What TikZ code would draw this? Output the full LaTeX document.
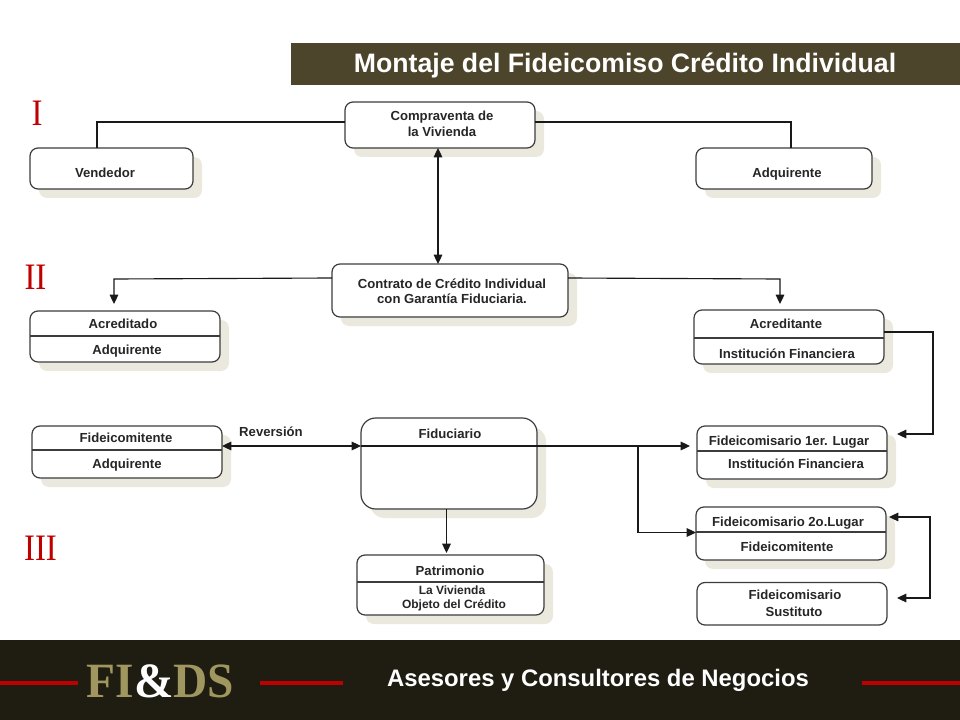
\documentclass[tikz,border=0pt]{standalone}
\usepackage{fontspec}
\setmainfont{Liberation Sans}
\newfontfamily\romanfam{Liberation Serif}
\usetikzlibrary{arrows.meta,shadows,calc}
\definecolor{linec}{HTML}{3C3C3C}
\definecolor{shadowc}{HTML}{EBE9DE}
\definecolor{barc}{HTML}{4D452B}
\definecolor{footc}{HTML}{1F1C11}
\definecolor{redc}{HTML}{C00000}
\definecolor{goldc}{HTML}{A09660}
\tikzset{
  x=0.75pt,y=-0.75pt,
  boxn/.style={draw=linec,line width=0.9pt,fill=white,rounded corners=6pt,inner sep=0pt,outer sep=0pt,
    copy shadow={shadow xshift=6.75pt,shadow yshift=-6.75pt,fill=shadowc,draw=none}},
  bigbox/.style={boxn,rounded corners=11pt},
  plainbox/.style={draw=linec,line width=0.9pt,fill=white,rounded corners=6pt,inner sep=0pt,outer sep=0pt},
  lab/.style={anchor=base,inner sep=0pt,font=\bfseries\fontsize{9.85}{11}\selectfont,text=black!85},
  smalllab/.style={lab,font=\bfseries\fontsize{9}{10}\selectfont},
  conn/.style={draw=black!90,line width=0.85pt},
  arr/.style={conn,-{Triangle[length=7pt,width=6.5pt]}},
  darr/.style={conn,{Triangle[length=7pt,width=6.5pt]}-{Triangle[length=7pt,width=6.5pt]}},
  divider/.style={draw=linec,line width=0.8pt},
  numeral/.style={anchor=base,inner sep=0pt,text=redc,xscale=0.88,font=\romanfam\fontsize{28}{30}\selectfont},
  redrule/.style={draw=redc,line width=2.6pt},
}
\newcommand{\bx}[6][boxn]{%
  \pgfmathsetmacro{\bxw}{(#5-#3)*0.75}%
  \pgfmathsetmacro{\bxh}{(#6-#4)*0.75}%
  \node[#1,minimum width=\bxw pt,minimum height=\bxh pt] (#2) at ({(#3+#5)/2},{(#4+#6)/2}) {};}
\newcommand{\tx}[5][lab]{\node[#1] (#2) at (#3,#4) {#5};}
\begin{document}
\begin{tikzpicture}
\useasboundingbox (0,0) rectangle (960,720);
% title and footer
\fill[barc] (291,43) rectangle (960,85);
\node[anchor=base,inner sep=0pt,text=white,font=\bfseries\fontsize{20}{22}\selectfont] (title) at (625,73) {Montaje del Fideicomiso Crédito Individual};
\fill[footc] (0,640) rectangle (960,720);
\draw[redrule] (0,683) -- (78,683);
\draw[redrule] (260,683) -- (343,683);
\draw[redrule] (862,683) -- (960,683);
\node[anchor=base,inner sep=0pt,text=goldc,font=\romanfam\bfseries\fontsize{37}{40}\selectfont,xscale=0.96] (logo) at (160.5,697) {FI\textcolor{white}{\&}DS};
\node[anchor=base,inner sep=0pt,text=white,font=\bfseries\fontsize{17.9}{20}\selectfont] (slogan) at (598,686) {Asesores y Consultores de Negocios};
% numerals
\node[numeral] (n1) at (37,125.5) {I};
\node[numeral] (n2) at (35.5,290) {II};
\node[numeral] (n3) at (40.5,560) {III};
% boxes
\bx{comp}{345}{102}{535}{148}
\bx{vend}{30}{148}{193}{189}
\bx{adq}{696}{148}{872}{189}
\bx{cont}{332}{264}{568}{317}
\bx{acdo}{30}{311}{220}{362}
\bx{acte}{694}{310}{884}{364}
\bx{fcom}{32}{426}{222}{478}
\bx[bigbox]{fidu}{361}{418}{537}{509}
\bx{fone}{697}{426}{887}{479}
\bx{ftwo}{696}{507}{886}{560}
\bx[plainbox]{sust}{697}{582.5}{887}{625}
\bx{patr}{357}{555}{544}{615}
% dividers
\draw[divider] (acdo.west |- 0,336) -- (acdo.east |- 0,336);
\draw[divider] (acte.west |- 0,338) -- (acte.east |- 0,338);
\draw[divider] (fcom.west |- 0,450) -- (fcom.east |- 0,450);
\draw[divider] (fone.west |- 0,451) -- (fone.east |- 0,451);
\draw[divider] (ftwo.west |- 0,532) -- (ftwo.east |- 0,532);
\draw[divider] (patr.west |- 0,582) -- (patr.east |- 0,582);
% labels
\tx{t1}{442}{121}{Compraventa de}
\tx{t2}{442}{137}{la Vivienda}
\tx{t3}{105}{178}{Vendedor}
\tx{t4}{787}{178}{Adquirente}
\tx{t5}{452}{288}{Contrato de Crédito Individual}
\tx{t6}{452}{304}{con Garantía Fiduciaria.}
\tx{t7}{123}{329}{Acreditado}
\tx{t8}{127}{354}{Adquirente}
\tx{t9}{786}{328}{Acreditante}
\tx{t10}{787}{358}{Institución Financiera}
\tx{t11}{126}{442}{Fideicomitente}
\tx{t12}{127}{468}{Adquirente}
\tx{t13}{271}{436}{Reversión}
\tx{t14}{450}{438}{Fiduciario}
\tx{t15}{789}{445}{Fideicomisario 1er. Lugar}
\tx{t16}{796}{468}{Institución Financiera}
\tx{t17}{788}{526}{Fideicomisario 2o.Lugar}
\tx{t18}{787}{551}{Fideicomitente}
\tx{t19}{795}{599}{Fideicomisario}
\tx{t20}{794}{616}{Sustituto}
\tx{t21}{450}{575}{Patrimonio}
\tx[smalllab]{t22}{452}{594}{La Vivienda}
\tx[smalllab]{t23}{454}{608}{Objeto del Crédito}
% connectors
\coordinate (branch) at (638,446);
\coordinate (feedR) at (933,434);
\coordinate (loopR) at (930,517);
\draw[conn] (vend.north -| 97,0) -- (97,122) -- (comp.west |- 0,122);
\draw[conn] (comp.east |- 0,122) -- (791,122) -- (adq.north -| 791,0);
\draw[darr] (comp.south -| 438,0) -- (cont.north -| 438,0);
\draw[arr] (cont.west |- 0,278) -- (114,279) -- (114,304);
\draw[arr] (cont.east |- 0,278) -- (780,279) -- (780,304);
\draw[darr] (fcom.east |- 0,446) -- (fidu.west |- 0,446);
\draw[arr] (fidu.west |- 0,446) -- (690,446);
\draw[arr] (branch) -- (638,532.5) -- (ftwo.west |- 0,532.5);
\draw[arr] (acte.east |- 0,332) -- (933,332) -- (feedR) -- (897,434);
\draw[darr] (889,517) -- (loopR) -- (930,598) -- (897,598);
\draw[arr] (fidu.south -| 446.5,0) -- (446.5,553);
\end{tikzpicture}
\end{document}
